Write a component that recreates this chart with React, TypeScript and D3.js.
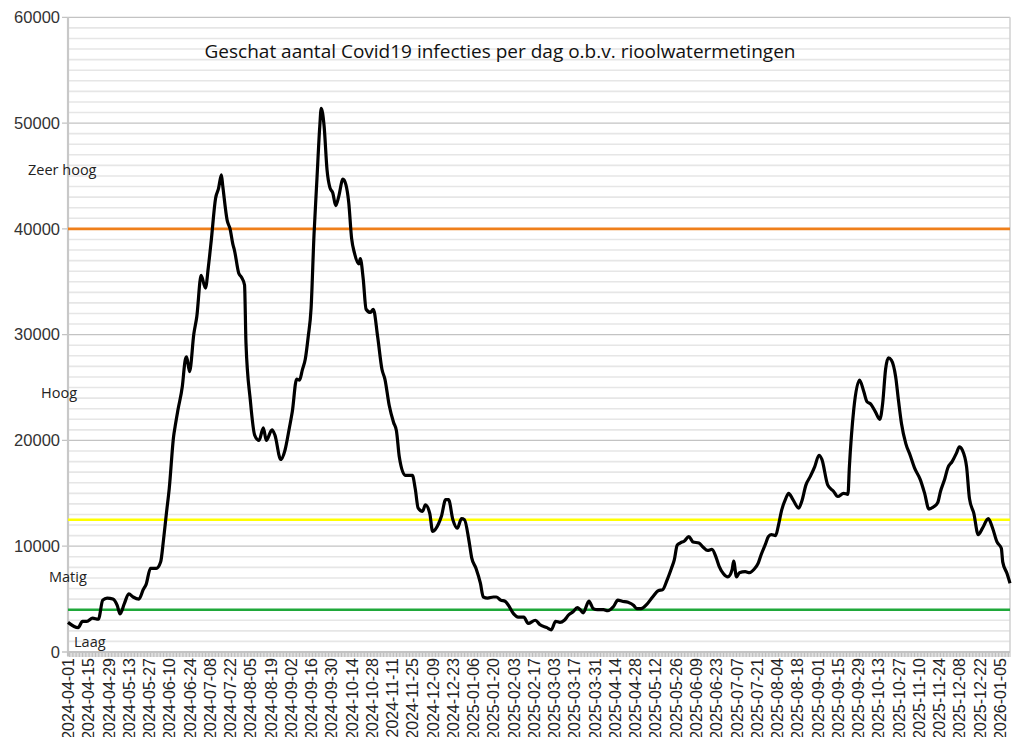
import React from "react";
import * as d3 from "d3";

const startDate = "2024-04-01";
// day offsets from startDate
const dayOffsets = [
  0, 7, 10, 13, 17, 21, 24, 27, 31, 34, 36, 39, 42, 45, 49, 52, 54, 57, 61, 64,
  66, 68, 70, 73, 74, 76, 79, 81, 82, 84, 87, 89, 92, 95, 97, 99, 102, 104, 106, 107,
  110, 112, 114, 115, 118, 120, 122, 123, 126, 129, 132, 135, 137, 141, 143, 147, 150, 153, 155, 158,
  160, 162, 164, 166, 168, 170, 172, 174, 175, 177, 179, 181, 183, 185, 187, 190, 192, 194, 196, 198,
  201, 202, 204, 206, 209, 211, 214, 217, 219, 222, 225, 227, 229, 233, 238, 240, 242, 245, 247, 250,
  252, 256, 258, 261, 263, 266, 269, 272, 274, 277, 279, 282, 285, 287, 290, 294, 296, 299, 302, 304,
  308, 311, 315, 318, 323, 326, 331, 334, 337, 340, 343, 346, 349, 352, 354, 356, 360, 363, 366, 370,
  373, 377, 380, 383, 387, 391, 393, 396, 400, 404, 408, 411, 414, 417, 419, 421, 423, 426, 429, 432,
  436, 439, 442, 445, 448, 450, 453, 456, 459, 460, 462, 464, 468, 471, 474, 477, 479, 482, 484, 486,
  489, 491, 493, 496, 498, 501, 505, 507, 510, 513, 516, 519, 521, 525, 529, 532, 536, 539, 540, 543,
  547, 550, 552, 555, 558, 561, 563, 565, 567, 569, 572, 574, 576, 579, 582, 585, 589, 592, 595, 598,
  601, 603, 606, 608, 611, 614, 616, 618, 621, 623, 626, 629, 632, 636, 639, 642, 645, 646, 649, 651,
];
const infections = [
  2800, 2300, 2900, 2900, 3200, 3100, 4900, 5100, 5000, 4400, 3600, 4600, 5500, 5200, 5000, 5900, 6400, 7900, 7900, 8500,
  10600, 13100, 15500, 20400, 21300, 22900, 25100, 27600, 27900, 26500, 30100, 31700, 35600, 34400, 36400, 38900, 42900, 43800, 45100, 44000,
  40800, 40000, 38500, 38000, 35800, 35400, 34700, 29200, 23800, 20500, 20000, 21200, 20000, 21000, 20500, 18200, 19100, 21200, 22700, 25800,
  25700, 26700, 27700, 29800, 32500, 39400, 44600, 49700, 51400, 49700, 45600, 43900, 43400, 42200, 43000, 44700, 44200, 42500, 39100, 37700,
  36700, 37200, 35300, 32400, 32100, 32400, 29800, 26700, 25800, 23300, 21700, 20900, 18400, 16700, 16700, 15400, 13600, 13300, 13900, 13100,
  11400, 12100, 12800, 14400, 14400, 12500, 11700, 12600, 12500, 10600, 8900, 7900, 6500, 5200, 5100, 5200, 5200, 4900, 4800, 4500,
  3600, 3300, 3300, 2700, 3000, 2600, 2300, 2100, 2900, 2800, 3000, 3500, 3800, 4200, 4000, 3700, 4800, 4100, 4000, 4000,
  3900, 4300, 4900, 4800, 4700, 4400, 4100, 4100, 4500, 5200, 5800, 5900, 6800, 7900, 8700, 10100, 10300, 10500, 10900, 10400,
  10300, 9900, 9600, 9700, 8900, 8100, 7400, 7100, 7800, 8600, 7100, 7500, 7600, 7500, 7800, 8400, 9200, 10200, 10900, 11100,
  11000, 12000, 13300, 14500, 15000, 14400, 13600, 14200, 15800, 16600, 17500, 18600, 18200, 15800, 15200, 14700, 15000, 14900, 17500, 22900,
  25700, 24600, 23700, 23400, 22700, 22000, 23500, 26700, 27800, 27600, 26000, 23700, 21600, 19700, 18600, 17400, 16300, 15000, 13500, 13700,
  14100, 15200, 16400, 17400, 18000, 18800, 19400, 19100, 17500, 14500, 13100, 11100, 11700, 12600, 11700, 10400, 9800, 8500, 7400, 6500,
];

const title = "Geschat aantal Covid19 infecties per dag o.b.v. rioolwatermetingen";
const yTicks = [0, 10000, 20000, 30000, 40000, 50000, 60000];
const tickStepDays = 14;
const lastTickDay = 644;
const lastDay = 651;

const levelLines = [
  { value: 40000, color: "#ef7f1a" },
  { value: 12500, color: "#ffff00" },
  { value: 4000, color: "#1fa83a" },
];
const levelLabels = [
  { label: "Zeer hoog", value: 45550, x: 28 },
  { label: "Hoog", value: 24450, x: 41 },
  { label: "Matig", value: 7100, x: 49 },
  { label: "Laag", value: 950, x: 74 },
];

export default function App() {
  const W = 1024;
  const H = 745;
  const left = 68;
  const right = 1010;
  const top = 17.3;
  const bottom = 652;

  const parse = d3.utcParse("%Y-%m-%d");
  const fmt = d3.utcFormat("%Y-%m-%d");
  const start = parse(startDate) as Date;

  const x = d3.scaleLinear().domain([0, lastDay]).range([left, right]);
  const y = d3.scaleLinear().domain([0, 60000]).range([bottom, top]);

  const data = dayOffsets.map((d, i) => ({ d, v: infections[i] }));
  const line = d3
    .line<{ d: number; v: number }>()
    .x((p) => x(p.d))
    .y((p) => y(p.v))
    .curve(d3.curveMonotoneX);

  const minor = d3.range(1000, 60000, 1000).filter((v) => v % 10000 !== 0);
  const tickDays = d3.range(0, lastTickDay + 1, tickStepDays);
  const dailyTicks = d3.range(0, lastDay + 1, 1);

  return (
    <svg width={W} height={H} style={{ display: "block", margin: "-8px" }} viewBox={`0 0 ${W} ${H}`}>
      <rect x={0} y={0} width={W} height={H} fill="#ffffff" />
      {minor.map((v) => (
        <line key={"m" + v} x1={left} x2={right} y1={y(v)} y2={y(v)} stroke="#e6e6e6" strokeWidth={1.6} />
      ))}
      {yTicks.map((v) => (
        <line key={"M" + v} x1={left - 6} x2={right} y1={y(v)} y2={y(v)} stroke="#c3c3c3" strokeWidth={1.3} />
      ))}
      <line x1={right} x2={right} y1={top} y2={bottom} stroke="#d0d0d0" strokeWidth={1.5} />
      <line x1={left} x2={left} y1={top} y2={bottom + 4} stroke="#c8c8c8" strokeWidth={2.2} />
      {dailyTicks.map((d) => (
        <line key={"dt" + d} x1={x(d)} x2={x(d)} y1={bottom} y2={bottom + 5} stroke="#bdbdbd" strokeWidth={1} />
      ))}
      <line x1={left} x2={right} y1={bottom} y2={bottom} stroke="#c3c3c3" strokeWidth={2} />
      {levelLines.map((l) => (
        <line key={"l" + l.value} x1={left} x2={right} y1={y(l.value)} y2={y(l.value)} stroke={l.color} strokeWidth={2.6} />
      ))}
      {yTicks.map((v) => (
        <text
          key={"yt" + v}
          x={60}
          y={y(v)}
          dy="0.35em"
          textAnchor="end"
          fontFamily="'Liberation Sans', Arial, sans-serif"
          fontSize={16.5}
          fill="#333"
        >
          {v}
        </text>
      ))}
      {tickDays.map((d) => (
        <text
          key={"xt" + d}
          transform={`translate(${x(d) + 6},${bottom + 6}) rotate(-90)`}
          textAnchor="end"
          fontFamily="'Liberation Sans', Arial, sans-serif"
          fontSize={16}
          fill="#222"
        >
          {fmt(d3.utcDay.offset(start, d))}
        </text>
      ))}
      {levelLabels.map((l) => (
        <text
          key={l.label}
          x={l.x}
          y={y(l.value)}
          dy="0.35em"
          fontFamily="'Open Sans', sans-serif"
          fontSize={14.5}
          fill="#222"
        >
          {l.label}
        </text>
      ))}
      <text x={500} y={58} textAnchor="middle" fontFamily="'Open Sans', sans-serif" fontSize={19} fill="#111">
        {title}
      </text>
      <path d={line(data) || ""} fill="none" stroke="#000" strokeWidth={3.2} strokeLinejoin="round" />
    </svg>
  );
}
